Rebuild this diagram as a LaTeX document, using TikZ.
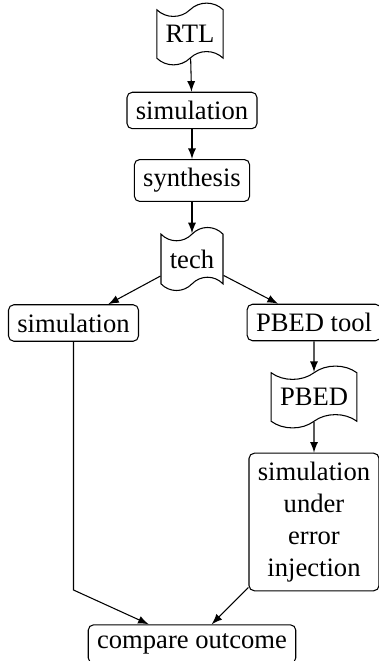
\documentclass[tikz,border=0pt]{standalone}
\usepackage{fontspec}
\setmainfont{Liberation Serif}
\usetikzlibrary{shapes.symbols}
\begin{document}
\begin{tikzpicture}[x=0.376pt, y=-0.376pt, >=latex,
  proc/.style={draw, rounded corners=2pt},
  docu/.style={draw, tape}]
\useasboundingbox (0,0) rectangle (378,661);

% Design files and tools
\node[docu] (rtl) at (190,34) {RTL};
\node[proc] (simA) at (192,110.5) {simulation};
\node[proc] (synth) at (192,180.5) {synthesis};
\node[docu] (tech) at (192,259) {tech};
\node[proc] (simB) at (73.5,323) {simulation};
\node[proc] (tool) at (314,322.5) {PBED tool};
\node[docu] (pbed) at (314,397) {PBED};
\node[proc, align=center] (simErr) at (314,522) {simulation\\under\\error\\injection};
\node[proc] (cmp) at (192,644) {compare outcome};

% Flow
\draw[->] (rtl) -- (simA);
\draw[->] (simA) -- (synth);
\draw[->] (synth) -- (tech);
\draw[->] (tech) -- (simB);
\draw[->] (tech) -- (tool);
\draw[->] (tool) -- (pbed);
\draw[->] (pbed) -- (simErr);

% Outcomes
\coordinate (bend) at (73.5,590);
\draw[->] (simB) -- (bend) -- (cmp);
\draw[->] (simErr) -- (cmp);
\end{tikzpicture}
\end{document}
